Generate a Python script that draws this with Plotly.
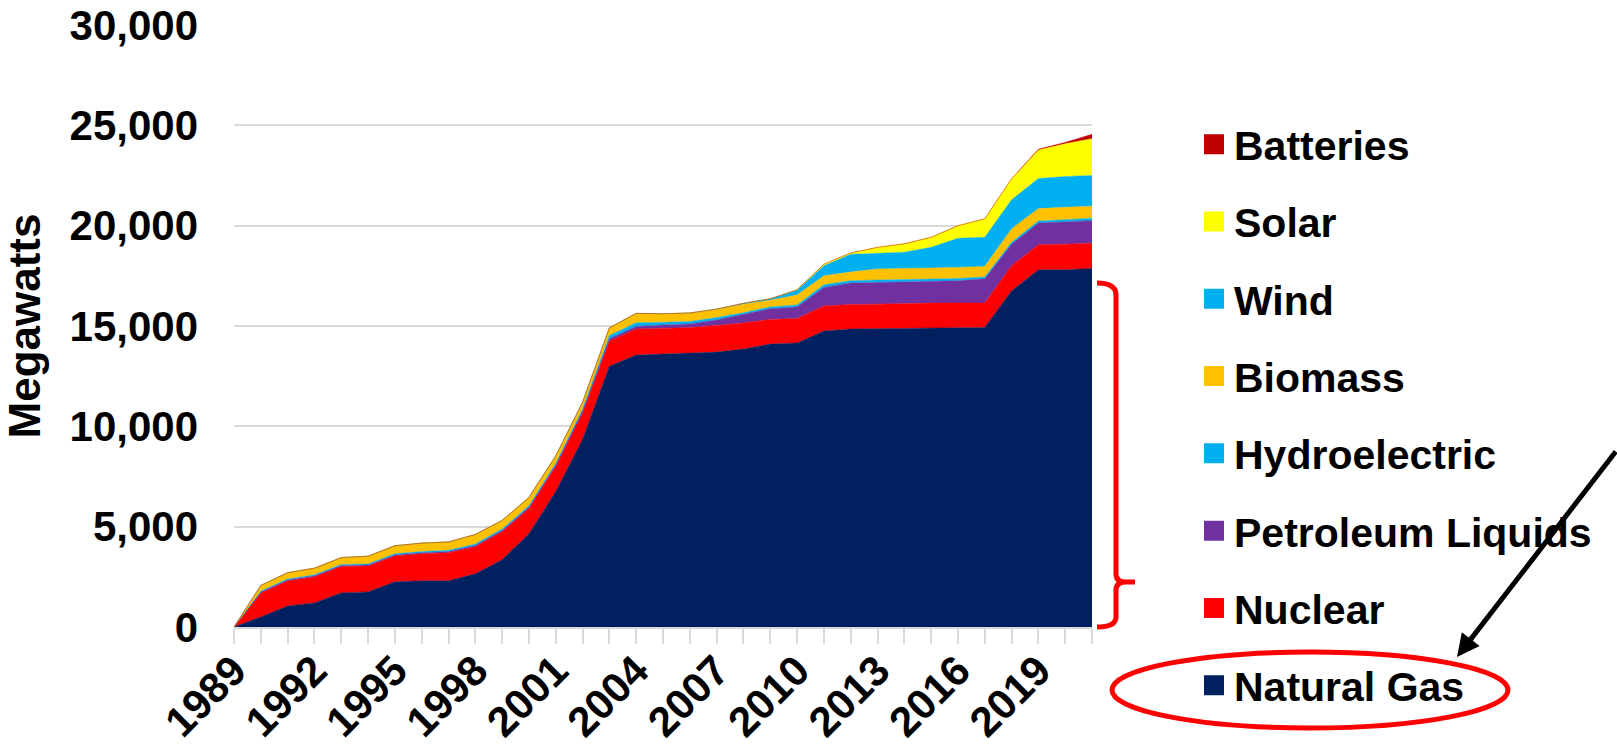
import plotly.graph_objects as go

years = list(range(1989, 2022))

natural_gas = [0, 500, 1050, 1200, 1700, 1750, 2250, 2300, 2300, 2650, 3350, 4650, 6750, 9350,
               13000, 13550, 13600, 13650, 13700, 13850, 14100, 14150, 14750, 14850, 14870, 14900,
               14920, 14920, 14930, 16750, 17800, 17800, 17870]
nuclear = [0, 1200, 1240, 1300, 1320, 1290, 1290, 1350, 1400, 1350, 1400, 1250, 1250, 1320,
           1250, 1300, 1280, 1280, 1330, 1300, 1230, 1220, 1250, 1220, 1220, 1230, 1220, 1230,
           1220, 1250, 1250, 1280, 1250]
petroleum = [0, 50, 50, 50, 50, 50, 50, 50, 60, 60, 60, 70, 80, 100, 120, 130, 170, 170, 270,
             420, 530, 580, 920, 1070, 1080, 1080, 1080, 1100, 1200, 1080, 1080, 1120, 1130]
hydro = [0, 40, 50, 50, 50, 50, 60, 60, 60, 70, 70, 70, 80, 100, 160, 180, 140, 120, 120, 90,
         90, 100, 130, 120, 120, 120, 120, 120, 90, 90, 100, 100, 120]
biomass = [0, 280, 320, 330, 340, 390, 400, 420, 420, 480, 430, 420, 370, 330, 380, 470, 420,
           430, 420, 420, 330, 500, 450, 430, 550, 550, 550, 550, 530, 670, 620, 620, 600]
wind = [0] * 19 + [50, 80, 230, 500, 880, 780, 800, 1030, 1450, 1450, 1450, 1500, 1530, 1530]
solar = [0] * 21 + [30, 80, 70, 300, 420, 500, 630, 920, 1050, 1420, 1630, 1830]
batteries = [0] * 30 + [40, 70, 220]

series = [
    ("Natural Gas", natural_gas, "#002060"),
    ("Nuclear", nuclear, "#FF0000"),
    ("Petroleum Liquids", petroleum, "#7030A0"),
    ("Hydroelectric", hydro, "#00B0F0"),
    ("Biomass", biomass, "#FFC000"),
    ("Wind", wind, "#00B0F0"),
    ("Solar", solar, "#FFFF00"),
    ("Batteries", batteries, "#C00000"),
]

tick_text = [str(y) if (y - 1989) % 3 == 0 and y <= 2019 else "" for y in years]

FONT = "Liberation Sans, Arial, sans-serif"
FS = 42

# pixel layout of plot area
W, H = 1617, 756
X0, X1 = 234, 1092
Y0, Y1 = 627, 25


def px(x):
    return (x - X0) / (X1 - X0)


def py(y):
    return (Y0 - y) / (Y0 - Y1)


fig = go.Figure()
for name, vals, color in series:
    fig.add_trace(go.Scatter(
        x=years, y=vals, name=name, stackgroup="one", mode="lines",
        line=dict(width=0.5, color=color), fillcolor=color,
        showlegend=False, hoverinfo="x+y+name"))
# legend entries (square swatches), top entry first
for name, vals, color in reversed(series):
    fig.add_trace(go.Scatter(
        x=[None], y=[None], name=name, mode="markers",
        marker=dict(symbol="square", size=16, color=color, line=dict(width=4, color=color)),
        showlegend=True, legendgroup=name))


def P(x, y):
    return f"{px(x):.5f},{py(y):.5f}"


bracket = (f"M{P(1097,283)} Q{P(1116,283)} {P(1116,295)} L{P(1116,574)} "
           f"Q{P(1116,582)} {P(1126,582)} L{P(1135,582)} M{P(1126,582)} "
           f"Q{P(1116,582)} {P(1116,590)} L{P(1116,617)} Q{P(1116,627)} {P(1097,627)}")

fig.update_layout(
    width=W, height=H,
    margin=dict(l=X0, r=W - X1, t=Y1, b=H - Y0, pad=0, autoexpand=False),
    plot_bgcolor="white", paper_bgcolor="white",
    font=dict(family=FONT, size=FS, color="black", weight="bold"),
    xaxis=dict(range=[1989, 2021], tickmode="array", tickvals=years, ticktext=tick_text,
               tickangle=-45, ticks="outside", ticklen=15, tickcolor="#d9d9d9", tickwidth=2,
               showline=True, linecolor="#d9d9d9", linewidth=2, showgrid=False,
               zeroline=False, tickfont=dict(family=FONT, size=FS, weight="bold"),
               ticklabelstandoff=-15, automargin=False),
    yaxis=dict(range=[0, 30000], dtick=5000, tickformat=",", showgrid=True,
               gridcolor="#d9d9d9", gridwidth=1.5, zeroline=False, showline=False,
               tickfont=dict(family=FONT, size=FS, weight="bold"), ticklabelstandoff=35,
               automargin=False,
               title=dict(text="Megawatts", font=dict(family=FONT, size=FS + 2, weight="bold"),
                          standoff=18)),
    legend=dict(x=px(1194), xanchor="left", y=py(111), yanchor="top",
                traceorder="grouped", tracegroupgap=21, itemwidth=30, maxheight=740,
                font=dict(family=FONT, size=FS - 1, weight="bold"), bgcolor="rgba(0,0,0,0)"),
    shapes=[
        dict(type="path", xref="paper", yref="paper", path=bracket,
             line=dict(color="#FF0000", width=5)),
        dict(type="circle", xref="paper", yref="paper", x0=px(1112), x1=px(1508),
             y0=py(728), y1=py(652), line=dict(color="#FF0000", width=5)),
    ],
    annotations=[
        dict(xref="paper", yref="paper", x=px(1457), y=py(657), ax=160, ay=-207,
             text="", showarrow=True, arrowhead=2, arrowsize=0.9, arrowwidth=5,
             arrowcolor="black", standoff=0),
    ],
)

fig.write_html("out.html")
